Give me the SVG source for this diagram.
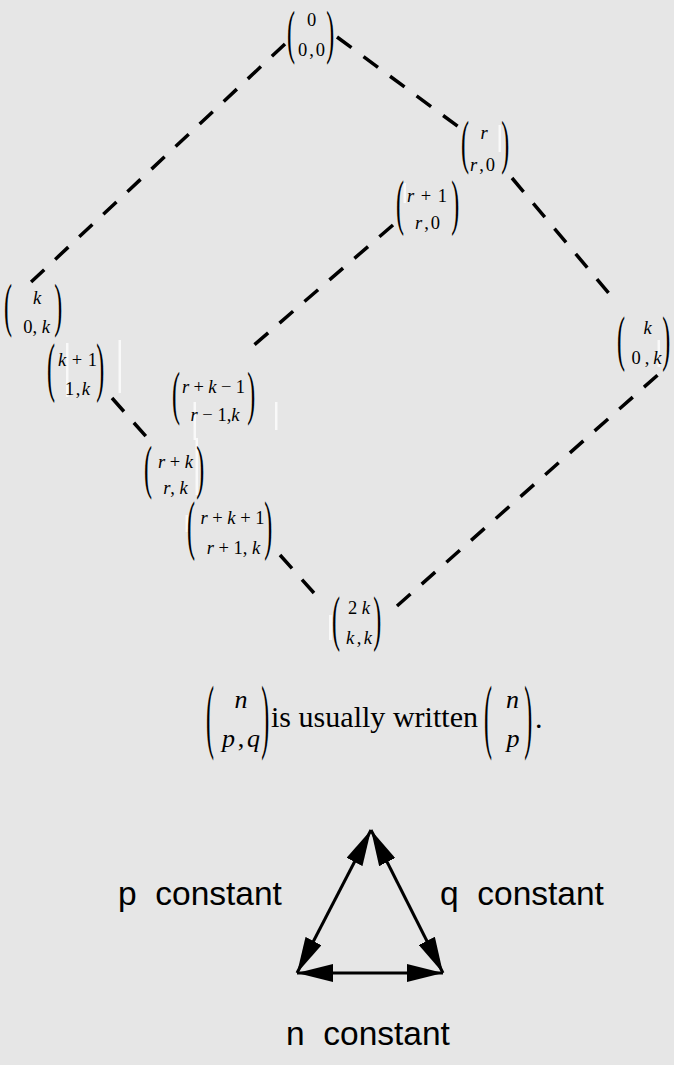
<svg xmlns="http://www.w3.org/2000/svg" width="674" height="1065" viewBox="0 0 674 1065">
  <defs>
    <style>
      .bg { fill: #e6e6e6; }
      .dash { stroke: #000; stroke-width: 3.5; stroke-dasharray: 18 15; fill: none; }
      .par { font-family: "Liberation Serif", "Times New Roman", serif; font-size: 24px; fill: #000; }
      .t { font-family: "Liberation Serif", "Times New Roman", serif; font-size: 18.5px; fill: #000; text-anchor: middle; }
      .big { font-family: "Liberation Serif", "Times New Roman", serif; font-size: 26px; fill: #000; text-anchor: middle; }
      .txt { font-family: "Liberation Serif", "Times New Roman", serif; font-size: 30px; fill: #000; }
      .lbl { font-family: "Liberation Sans", Arial, sans-serif; font-size: 33.5px; fill: #000; }
      .i { font-style: italic; }
      .arr { stroke: #000; stroke-width: 3; fill: none; marker-start: url(#head); marker-end: url(#head); }
      .streak { fill: #ffffff; opacity: 0.75; }
    </style>
    <marker id="head" markerUnits="userSpaceOnUse" markerWidth="36" markerHeight="18" refX="36" refY="9" orient="auto-start-reverse">
      <path d="M0,0 L36,9 L0,18 Z" fill="#000"/>
    </marker>
  </defs>

  <rect class="bg" x="0" y="0" width="674" height="1065"/>

  <!-- dashed connectors of the lattice -->
  <g id="connectors">
    <line class="dash" x1="285" y1="44" x2="30" y2="283"/>
    <line class="dash" x1="337" y1="37" x2="460" y2="128"/>
    <line class="dash" x1="512" y1="178" x2="612" y2="297"/>
    <line class="dash" x1="393" y1="225" x2="246" y2="352"/>
    <line class="dash" x1="112" y1="398" x2="150" y2="441"/>
    <line class="dash" x1="280" y1="555" x2="322" y2="602"/>
    <line class="dash" x1="397" y1="606" x2="660" y2="373"/>
  </g>

  <!-- white rendering streaks beside some brackets -->
  <g id="streaks">
    <rect class="streak" x="498.5" y="125" width="2.5" height="27"/>
    <rect class="streak" x="403.5" y="183" width="2.5" height="20"/>
    <rect class="streak" x="66" y="343" width="2.5" height="54"/>
    <rect class="streak" x="118.5" y="340" width="2.5" height="53"/>
    <rect class="streak" x="193.5" y="402" width="2.5" height="38"/>
    <rect class="streak" x="275" y="402" width="2.5" height="28"/>
    <rect class="streak" x="195.5" y="438" width="2.5" height="57"/>
    <rect class="streak" x="185.5" y="515" width="2.5" height="17"/>
    <rect class="streak" x="329" y="615" width="3" height="25"/>
    <rect class="streak" x="657.5" y="340" width="2.5" height="27"/>
  </g>

  <!-- (0 ; 0,0) -->
  <g id="n-0-00">
    <text class="par" transform="translate(286.9,52.4) scale(1,2.49)">(</text>
    <text class="par" transform="translate(326.3,52.4) scale(1,2.49)">)</text>
    <text class="t" x="311.5" y="25.5">0</text>
    <text class="t" x="311.5" y="55.5" textLength="27" lengthAdjust="spacing">0,0</text>
  </g>

  <!-- (r ; r,0) -->
  <g id="n-r-r0">
    <text class="par" transform="translate(460.9,162.4) scale(1,2.49)">(</text>
    <text class="par" transform="translate(501.3,162.4) scale(1,2.49)">)</text>
    <text class="t" x="484" y="138.5"><tspan class="i">r</tspan></text>
    <text class="t" x="482.5" y="170.5" textLength="25" lengthAdjust="spacing"><tspan class="i">r</tspan>,0</text>
  </g>

  <!-- (r+1 ; r,0) -->
  <g id="n-r1-r0">
    <text class="par" transform="translate(395.9,223.2) scale(1,2.54)">(</text>
    <text class="par" transform="translate(451.3,223.2) scale(1,2.54)">)</text>
    <text class="t" x="427" y="201.5" textLength="40" lengthAdjust="spacing"><tspan class="i">r</tspan> + 1</text>
    <text class="t" x="427.5" y="228.5" textLength="25" lengthAdjust="spacing"><tspan class="i">r</tspan>,0</text>
  </g>

  <!-- (k ; 0,k) left -->
  <g id="n-k-0k-left">
    <text class="par" transform="translate(3.9,324.6) scale(1,2.44)">(</text>
    <text class="par" transform="translate(54.3,324.6) scale(1,2.44)">)</text>
    <text class="t" x="37" y="303.5"><tspan class="i">k</tspan></text>
    <text class="t" x="36.5" y="332.5">0, <tspan class="i">k</tspan></text>
  </g>

  <!-- (k+1 ; 1,k) -->
  <g id="n-k1-1k">
    <text class="par" transform="translate(46.9,388.6) scale(1,2.69)">(</text>
    <text class="par" transform="translate(96.3,388.6) scale(1,2.69)">)</text>
    <text class="t" x="77.5" y="365.5" textLength="39" lengthAdjust="spacing"><tspan class="i">k</tspan> + 1</text>
    <text class="t" x="77.5" y="395" textLength="25" lengthAdjust="spacing">1,<tspan class="i">k</tspan></text>
  </g>

  <!-- (r+k-1 ; r-1,k) -->
  <g id="n-rk1-r1k">
    <text class="par" transform="translate(171.9,412.6) scale(1,2.44)">(</text>
    <text class="par" transform="translate(247.3,412.6) scale(1,2.44)">)</text>
    <text class="t" x="213.5" y="392.5" textLength="63" lengthAdjust="spacing"><tspan class="i">r</tspan> + <tspan class="i">k</tspan> − 1</text>
    <text class="t" x="215" y="420.5"><tspan class="i">r</tspan> − 1,<tspan class="i">k</tspan></text>
  </g>

  <!-- (r+k ; r,k) -->
  <g id="n-rk-rk">
    <text class="par" transform="translate(143.9,487.4) scale(1,2.49)">(</text>
    <text class="par" transform="translate(196.3,487.4) scale(1,2.49)">)</text>
    <text class="t" x="175.5" y="467.5"><tspan class="i">r</tspan> + <tspan class="i">k</tspan></text>
    <text class="t" x="175.5" y="493.5"><tspan class="i">r</tspan>, <tspan class="i">k</tspan></text>
  </g>

  <!-- (r+k+1 ; r+1,k) -->
  <g id="n-rk1p-r1pk">
    <text class="par" transform="translate(186.9,546.6) scale(1,2.69)">(</text>
    <text class="par" transform="translate(264.3,546.6) scale(1,2.69)">)</text>
    <text class="t" x="232.5" y="523.5"><tspan class="i">r</tspan> + <tspan class="i">k</tspan> + 1</text>
    <text class="t" x="233.5" y="553.5"><tspan class="i">r</tspan> + 1, <tspan class="i">k</tspan></text>
  </g>

  <!-- (2k ; k,k) -->
  <g id="n-2k-kk">
    <text class="par" transform="translate(331.9,639.2) scale(1,2.54)">(</text>
    <text class="par" transform="translate(373.3,639.2) scale(1,2.54)">)</text>
    <text class="t" x="359" y="613.5" textLength="22" lengthAdjust="spacing">2<tspan class="i">k</tspan></text>
    <text class="t" x="359" y="643.5" textLength="26" lengthAdjust="spacing"><tspan class="i">k</tspan>,<tspan class="i">k</tspan></text>
  </g>

  <!-- (k ; 0,k) right -->
  <g id="n-k-0k-right">
    <text class="par" transform="translate(616.9,359.2) scale(1,2.54)">(</text>
    <text class="par" transform="translate(662.3,359.2) scale(1,2.54)">)</text>
    <text class="t" x="647.5" y="333.5"><tspan class="i">k</tspan></text>
    <text class="t" x="646.5" y="363.5" textLength="30" lengthAdjust="spacing">0,<tspan class="i">k</tspan></text>
  </g>

  <!-- notation note -->
  <g id="note">
    <text class="par" transform="translate(205.9,742.5) scale(1,3.42)">(</text>
    <text class="par" transform="translate(261.3,742.5) scale(1,3.42)">)</text>
    <text class="big" x="241" y="708"><tspan class="i">n</tspan></text>
    <text class="big" x="241" y="747" textLength="38" lengthAdjust="spacing"><tspan class="i">p</tspan>,<tspan class="i">q</tspan></text>
    <text class="txt" x="271" y="727" textLength="207" lengthAdjust="spacing">is usually written</text>
    <text class="par" transform="translate(483.9,742.5) scale(1,3.42)">(</text>
    <text class="par" transform="translate(524.3,742.5) scale(1,3.42)">)</text>
    <text class="big" x="512.5" y="708"><tspan class="i">n</tspan></text>
    <text class="big" x="513" y="747"><tspan class="i">p</tspan></text>
    <text class="txt" x="535" y="728">.</text>
  </g>

  <!-- triangle of constancy relations -->
  <g id="triangle">
    <line class="arr" x1="297" y1="973" x2="371" y2="830"/>
    <line class="arr" x1="371" y1="830" x2="443" y2="973"/>
    <line class="arr" x1="297" y1="973" x2="443" y2="973"/>
  </g>
  <g id="label-p"><text class="lbl" x="118" y="905" xml:space="preserve">p  constant</text></g>
  <g id="label-q"><text class="lbl" x="440" y="905" xml:space="preserve">q  constant</text></g>
  <g id="label-n"><text class="lbl" x="286" y="1045" xml:space="preserve">n  constant</text></g>
</svg>
